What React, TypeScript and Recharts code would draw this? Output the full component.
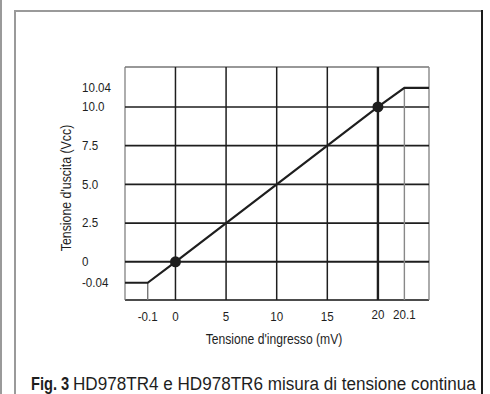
import React from "react";
import {
  ComposedChart,
  Line,
  XAxis,
  YAxis,
  ReferenceLine,
} from "recharts";

// ---- data ----
const inputMv = [-0.2, -0.1, 0, 20, 20.1, 20.2];
const outputV = [-0.04, -0.04, 0, 10, 10.04, 10.04];
const markedInputs = [0, 20];

const xTicks = [-0.1, 0, 5, 10, 15, 20, 20.1];
const xTickLabels = ["-0.1", "0", "5", "10", "15", "20", "20.1"];
const yTicks = [-0.04, 0, 2.5, 5, 7.5, 10, 10.04];
const yTickLabels = ["-0.04", "0", "2.5", "5.0", "7.5", "10.0", "10.04"];

const xGrid = [0, 5, 10, 15, 20];
const yGrid = [0, 2.5, 5, 7.5, 10];

const xTitle = "Tensione d'ingresso (mV)";
const yTitle = "Tensione d'uscita (Vcc)";
const captionBold = "Fig. 3";
const captionText = "HD978TR4 e HD978TR6 misura di tensione continua";

const chartData = inputMv.map((x, i) => ({ x, y: outputV[i] }));

// ---- schematic (not-to-scale) scale: breakpoints and their share of the axis ----
const xStops = [-0.2, -0.1, 0, 20, 20.1, 20.2];
const xShares = [0, 0.0747, 0.166, 0.832, 0.919, 1];
const yStops = [-0.08, -0.04, 0, 10, 10.04, 10.08];
const yShares = [0, 0.074, 0.164, 0.8286, 0.91, 1];

function piecewiseScale(stops: number[], shares: number[], dom?: number[], rng?: number[]): any {
  let d = dom || [stops[0], stops[stops.length - 1]];
  let r = rng || [0, 1];
  const s: any = (v: number) => {
    let i = 0;
    while (i < stops.length - 2 && v > stops[i + 1]) i++;
    const t = (v - stops[i]) / (stops[i + 1] - stops[i]);
    const f = shares[i] + t * (shares[i + 1] - shares[i]);
    return r[0] + f * (r[1] - r[0]);
  };
  s.domain = (nd?: number[]) => {
    if (nd === undefined) return d;
    d = nd;
    return s;
  };
  s.range = (nr?: number[]) => {
    if (nr === undefined) return r;
    r = nr;
    return s;
  };
  s.copy = () => piecewiseScale(stops, shares, d, r);
  s.ticks = () => stops;
  return s;
}

const xScale = piecewiseScale(xStops, xShares);
const yScale = piecewiseScale(yStops, yShares);

const FONT = "'Liberation Sans', Arial, sans-serif";
const INK = "#1e1e1e";
const NARROW = 0.86;

const XTick = (props: any) => {
  const { x, y, payload, index } = props;
  const lift = payload.value >= 20 ? -2 : 0;
  return (
    <g transform={`translate(${x},${y + lift}) scale(${NARROW},1)`}>
      <text x={0} y={0} textAnchor="middle" dominantBaseline="central" fill={INK} fontSize={13.5} fontFamily={FONT}>
        {xTickLabels[index]}
      </text>
    </g>
  );
};

const YTick = (props: any) => {
  const { x, y, index } = props;
  return (
    <g transform={`translate(${x},${y}) scale(${NARROW},1)`}>
      <text x={0} y={0} textAnchor="start" dominantBaseline="central" fill={INK} fontSize={13.5} fontFamily={FONT}>
        {yTickLabels[index]}
      </text>
    </g>
  );
};

const Dot = (props: any) => {
  const { cx, cy, payload, index } = props;
  if (!markedInputs.includes(payload.x)) return <g key={`d${index}`} />;
  return <circle key={`d${index}`} cx={cx} cy={cy} r={5.5} fill={INK} />;
};

export default function App() {
  return (
    <div style={{ position: "fixed", left: 0, top: 0, width: 490, height: 394, background: "#fff", overflow: "hidden" }}>
      {/* page frame */}
      <div style={{ position: "absolute", left: 0, top: 0, width: 2, height: 394, background: "#9a9a9a" }} />
      <div style={{ position: "absolute", left: 14, top: 10, width: 2, height: 384, background: "#9a9a9a" }} />
      <div style={{ position: "absolute", left: 14, top: 10, width: 469, height: 2, background: "#9a9a9a" }} />
      <div style={{ position: "absolute", left: 481, top: 10, width: 2, height: 384, background: "#1a1a1a" }} />

      <div style={{ position: "absolute", left: 0, top: 0 }}>
        <ComposedChart
          width={490}
          height={394}
          data={chartData}
          margin={{ top: 67, right: 61, bottom: 64, left: 65 }}
        >
          <XAxis
            dataKey="x"
            type="number"
            domain={[-0.2, 20.2]}
            scale={xScale}
            ticks={xTicks}
            interval={0}
            height={30}
            axisLine={false}
            tickLine={false}
            tickSize={0}
            tickMargin={17}
            tick={<XTick />}
            allowDataOverflow
          />
          <YAxis
            dataKey="y"
            type="number"
            domain={[-0.08, 10.08]}
            scale={yScale}
            ticks={yTicks}
            interval={0}
            width={60}
            axisLine={false}
            tickLine={false}
            tickSize={0}
            tickMargin={43}
            tick={<YTick />}
            allowDataOverflow
          />
          {/* plot frame */}
          <ReferenceLine y={10.08} stroke="#333" strokeWidth={1.2} />
          <ReferenceLine y={-0.08} stroke="#111" strokeWidth={1.3} />
          <ReferenceLine x={-0.2} stroke="#777" strokeWidth={1.2} />
          <ReferenceLine x={20.2} stroke="#888" strokeWidth={1.4} />
          {/* grid */}
          {yGrid.map((v) => (
            <ReferenceLine key={`h${v}`} y={v} stroke={INK} strokeWidth={v === 0 ? 2 : 1.6} />
          ))}
          {xGrid.map((v) => (
            <ReferenceLine key={`v${v}`} x={v} stroke={INK} strokeWidth={v === 20 ? 2.4 : 1.5} />
          ))}
          <ReferenceLine
            segment={[{ x: -0.1, y: -0.08 }, { x: -0.1, y: -0.04 }]}
            stroke="#777"
            strokeWidth={1.4}
          />
          <ReferenceLine
            segment={[{ x: 20.1, y: -0.08 }, { x: 20.1, y: 10.04 }]}
            stroke="#888"
            strokeWidth={1.4}
          />
          <Line
            dataKey="y"
            type="linear"
            stroke={INK}
            strokeWidth={2.2}
            dot={Dot}
            activeDot={false}
            isAnimationActive={false}
          />
        </ComposedChart>
      </div>

      <svg width={490} height={394} style={{ position: "absolute", left: 0, top: 0, pointerEvents: "none" }}>
        <g transform="translate(274,339) scale(0.868,1)">
          <text x={0} y={0} textAnchor="middle" dominantBaseline="central" fontFamily={FONT} fontSize={14} fill={INK}>
            {xTitle}
          </text>
        </g>
        <g transform="translate(66,188) rotate(-90) scale(0.883,1)">
          <text x={0} y={0} textAnchor="middle" dominantBaseline="central" fontFamily={FONT} fontSize={14} fill={INK}>
            {yTitle}
          </text>
        </g>
        <g transform="translate(31,390) scale(0.77,1)">
          <text x={0} y={0} fontFamily={FONT} fontSize={19} fontWeight="bold" fill={INK}>
            {captionBold}
          </text>
        </g>
        <g transform="translate(73,390) scale(0.9,1)">
          <text x={0} y={0} fontFamily={FONT} fontSize={19} fill={INK}>
            {captionText}
          </text>
        </g>
      </svg>
    </div>
  );
}
